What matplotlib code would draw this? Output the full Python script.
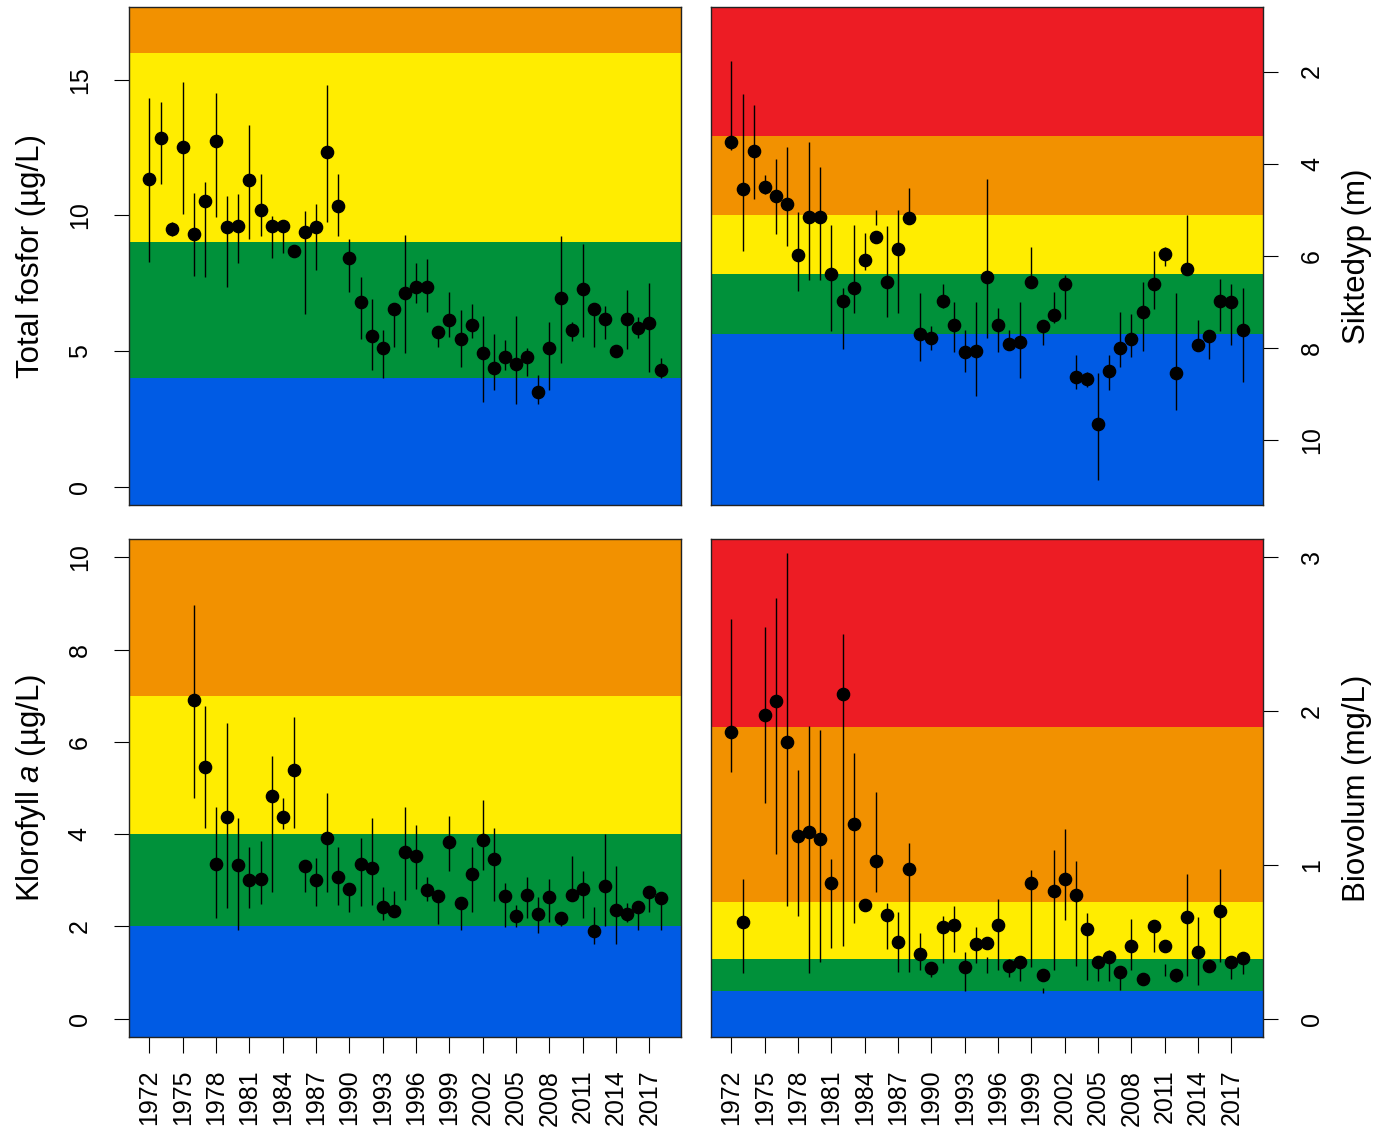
#!/usr/bin/env python3
"""Tidsserier for fosfor, siktedyp, klorofyll a og biovolum med tilstandsklasser."""

import matplotlib

matplotlib.use("Agg")
import matplotlib.pyplot as plt

plt.rcParams["font.family"] = ["Liberation Sans", "DejaVu Sans"]
plt.rcParams["mathtext.fontset"] = "custom"
plt.rcParams["mathtext.rm"] = "Liberation Sans"
plt.rcParams["mathtext.it"] = "Liberation Sans:italic"

BLUE = "#005BE4"
GREEN = "#00913A"
YELLOW = "#FFED00"
ORANGE = "#F29100"
RED = "#ED1C24"

XTICKS = list(range(1972, 2018, 3))

# --- Total fosfor (ug/L) ---
TP_YEARS = list(range(1972, 2019))
TP_VAL = [11.34, 12.84, 9.50, 12.53, 9.30, 10.51, 12.74, 9.58, 9.62, 11.30, 10.20, 9.62,
          9.62, 8.69, 9.40, 9.58, 12.33, 10.36, 8.42, 6.82, 5.55, 5.10, 6.55, 7.13,
          7.37, 7.37, 5.68, 6.14, 5.44, 5.96, 4.92, 4.36, 4.79, 4.52, 4.79, 3.48,
          5.10, 6.97, 5.78, 7.27, 6.55, 6.18, 4.98, 6.18, 5.86, 6.02, 4.30]
TP_HI = [14.32, 14.17, 9.77, 14.93, 10.81, 11.24, 14.52, 10.72, 10.78, 13.33, 11.51, 9.99,
         9.83, 8.69, 10.16, 10.41, 14.81, 11.51, 9.12, 7.74, 6.92, 5.78, 6.55, 9.28,
         8.23, 8.38, 5.68, 7.19, 6.51, 6.72, 6.30, 5.62, 5.41, 6.30, 5.10, 4.12,
         6.08, 9.22, 6.08, 8.95, 6.55, 6.66, 4.98, 7.23, 6.24, 7.50, 4.73]
TP_LO = [8.29, 11.16, 9.25, 10.06, 7.78, 7.72, 9.95, 7.35, 8.23, 9.12, 9.24, 8.44,
         8.60, 8.69, 6.35, 7.98, 9.75, 9.24, 7.19, 5.43, 4.28, 4.02, 5.16, 4.92,
         6.78, 6.43, 5.16, 5.53, 4.39, 5.49, 3.13, 3.56, 4.30, 3.04, 4.08, 3.04,
         3.56, 4.55, 5.37, 5.53, 5.16, 5.43, 4.98, 5.06, 5.49, 4.24, 4.00]
TP_LIMITS = [4, 9, 16]
TP_COLORS = [BLUE, GREEN, YELLOW, ORANGE]

# --- Siktedyp (m) ---
SD_YEARS = list(range(1972, 2019))
SD_VAL = [3.53, 4.55, 3.72, 4.50, 4.70, 4.88, 5.98, 5.16, 5.16, 6.39, 6.97, 6.69,
          6.08, 5.59, 6.57, 5.84, 5.18, 7.70, 7.77, 6.97, 7.49, 8.08, 8.06, 6.45,
          7.50, 7.90, 7.86, 6.57, 7.52, 7.28, 6.60, 8.62, 8.66, 9.64, 8.50, 7.99,
          7.79, 7.21, 6.60, 5.95, 8.54, 6.29, 7.92, 7.73, 6.97, 7.00, 7.61]
SD_TOP = [1.78, 2.49, 2.72, 4.24, 3.90, 3.63, 5.04, 3.53, 4.08, 5.32, 6.69, 5.32,
          5.50, 5.00, 5.35, 5.00, 4.53, 6.81, 7.52, 6.60, 7.00, 7.61, 7.00, 4.33,
          7.13, 7.61, 7.00, 5.80, 7.52, 6.78, 6.42, 8.15, 8.52, 8.53, 8.15, 7.21,
          7.25, 6.57, 5.90, 5.80, 6.81, 5.10, 7.39, 7.73, 6.50, 6.60, 6.69]
SD_BOTTOM = [3.70, 5.89, 4.77, 4.66, 5.52, 5.79, 6.76, 6.53, 6.53, 7.63, 8.02, 7.23,
             6.31, 5.33, 7.32, 7.23, 5.29, 8.28, 8.03, 7.13, 8.08, 8.52, 9.04, 7.78,
             8.08, 7.99, 8.64, 6.57, 7.94, 7.46, 7.37, 8.88, 8.84, 10.85, 8.91, 8.41,
             8.20, 8.06, 7.14, 6.21, 9.35, 6.42, 8.03, 8.24, 7.63, 7.94, 8.73]
SD_LIMITS = [7.7, 6.4, 5.1, 3.4]
SD_COLORS = [BLUE, GREEN, YELLOW, ORANGE, RED]

# --- Klorofyll a (ug/L) ---
CHL_YEARS = list(range(1976, 2019))
CHL_VAL = [6.90, 5.46, 3.36, 4.37, 3.33, 3.00, 3.03, 4.83, 4.37, 5.38, 3.30, 3.00,
           3.91, 3.08, 2.82, 3.36, 3.26, 2.42, 2.33, 3.61,
           3.52, 2.78, 2.65, 3.82, 2.51, 3.14, 3.88, 3.46, 2.65, 2.23, 2.69, 2.26,
           2.63, 2.18, 2.69, 2.82, 1.90, 2.87, 2.35, 2.26, 2.42, 2.75, 2.61]
CHL_HI = [8.96, 6.78, 4.58, 6.42, 4.34, 3.73, 3.86, 5.69, 4.78, 6.54, 3.30, 3.49,
          4.90, 3.73, 2.82, 3.91, 4.34, 2.85, 2.76, 4.58,
          4.19, 3.07, 2.65, 4.40, 2.51, 3.73, 4.74, 4.13, 2.94, 2.47, 3.06, 2.63,
          3.03, 2.18, 3.52, 3.21, 2.42, 4.01, 3.30, 2.51, 2.42, 2.75, 2.61]
CHL_LO = [4.78, 4.14, 2.18, 2.40, 1.91, 2.40, 2.49, 2.74, 4.11, 4.14, 2.74, 2.44,
          2.74, 2.47, 2.31, 2.44, 2.47, 2.13, 2.33, 2.58,
          2.80, 2.54, 2.04, 3.19, 1.91, 2.31, 3.23, 2.56, 1.98, 1.98, 2.18, 1.85,
          2.10, 2.00, 2.69, 2.18, 1.61, 2.00, 1.61, 2.10, 1.91, 2.31, 1.91]
CHL_LIMITS = [2, 4, 7]
CHL_COLORS = [BLUE, GREEN, YELLOW, ORANGE]

# --- Biovolum (mg/L) ---
BV_YEARS = [1972, 1973] + list(range(1975, 2019))
BV_VAL = [1.866, 0.631, 1.974, 2.067, 1.801, 1.188, 1.216, 1.168, 0.885, 2.110, 1.268,
          0.739, 1.024, 0.674, 0.501, 0.976, 0.421, 0.328, 0.594, 0.609, 0.334, 0.486,
          0.490,
          0.609, 0.339, 0.371, 0.879, 0.281, 0.831, 0.905, 0.803, 0.583, 0.371, 0.399,
          0.302, 0.475, 0.259, 0.603, 0.475, 0.281, 0.658, 0.436, 0.345, 0.702, 0.365,
          0.393]
BV_HI = [2.600, 0.905, 2.546, 2.737, 3.028, 1.620, 1.905, 1.877, 1.041, 2.499, 1.728,
         0.739, 1.473, 0.749, 0.695, 1.142, 0.559, 0.328, 0.667, 0.732, 0.430, 0.594,
         0.399,
         0.778, 0.386, 0.400, 0.969, 0.198, 1.099, 1.235, 1.026, 0.684, 0.371, 0.447,
         0.339, 0.648, 0.259, 0.603, 0.354, 0.321, 0.943, 0.663, 0.345, 0.972, 0.365,
         0.425]
BV_LO = [1.602, 0.296, 1.402, 1.073, 0.734, 0.669, 0.296, 0.367, 0.458, 0.469, 0.624,
         0.739, 0.825, 0.451, 0.306, 0.306, 0.313, 0.270, 0.360, 0.436, 0.177, 0.360,
         0.296,
         0.318, 0.270, 0.242, 0.334, 0.166, 0.313, 0.641, 0.339, 0.253, 0.242, 0.242,
         0.188, 0.313, 0.259, 0.436, 0.274, 0.235, 0.274, 0.220, 0.345, 0.371, 0.257,
         0.292]
BV_LIMITS = [0.18, 0.39, 0.76, 1.9]
BV_COLORS = [BLUE, GREEN, YELLOW, ORANGE, RED]

W, H = 1381, 1132
TICK_FS = 18
LABEL_FS = 22.5


def r_range(lo, hi):
    """R-style axis range: 4 % padding on each side."""
    pad = 0.04 * (hi - lo)
    return lo - pad, hi + pad


def add_axes(fig, x0, y0, x1, y1):
    return fig.add_axes([x0 / W, 1 - y1 / H, (x1 - x0) / W, (y1 - y0) / H])


def draw_panel(ax, years, val, lo, hi, limits, colors, ylim, yticks, side,
               label, show_x):
    edges = [-1e3] + list(limits) + [1e3]
    if limits[0] > limits[-1]:
        edges = [1e3] + list(limits) + [-1e3]
    for (a, b), c in zip(zip(edges[:-1], edges[1:]), colors):
        ax.axhspan(a, b, color=c, lw=0, zorder=0)

    ax.vlines(years, lo, hi, color="black", lw=1.0, zorder=2)
    ax.plot(years, val, "o", color="black", ms=8.8, zorder=3)

    ax.set_xlim(*r_range(1972, 2018))
    ax.set_ylim(*ylim)
    ax.set_yticks(yticks)
    ax.set_yticklabels([str(t) for t in yticks])

    for s in ax.spines.values():
        s.set_linewidth(1.0)
        s.set_color("#222222")

    if side == "right":
        ax.yaxis.tick_right()
        ax.yaxis.set_label_position("right")
        ax.set_ylabel(label, fontsize=LABEL_FS, rotation=90, va="center")
        ax.yaxis.set_label_coords(646 / 552, 0.5)
    else:
        ax.set_ylabel(label, fontsize=LABEL_FS, rotation=90, va="center")
        ax.yaxis.set_label_coords(-98 / 552, 0.5)
    ax.tick_params(axis="y", length=10.8, width=0.8, pad=16,
                   labelsize=TICK_FS, labelrotation=90)
    for t in ax.get_yticklabels():
        t.set_va("center")

    if show_x:
        ax.set_xticks(XTICKS)
        ax.set_xticklabels([str(y) for y in XTICKS], rotation=90)
        ax.tick_params(axis="x", length=11.5, width=0.8, pad=12,
                       labelsize=TICK_FS)
    else:
        ax.tick_params(axis="x", bottom=False, labelbottom=False)


def main():
    fig = plt.figure(figsize=(W / 100, H / 100), dpi=100)

    ax_tp = add_axes(fig, 129, 7, 681, 505)
    ax_sd = add_axes(fig, 711, 7, 1263, 505)
    ax_chl = add_axes(fig, 129, 539, 681, 1037)
    ax_bv = add_axes(fig, 711, 539, 1263, 1037)

    draw_panel(ax_tp, TP_YEARS, TP_VAL, TP_LO, TP_HI, TP_LIMITS, TP_COLORS,
               r_range(0, 17), [0, 5, 10, 15], "left",
               "Total fosfor (µg/L)", False)

    lo, hi = r_range(1, 11)
    draw_panel(ax_sd, SD_YEARS, SD_VAL, SD_BOTTOM, SD_TOP, SD_LIMITS, SD_COLORS,
               (hi, lo), [2, 4, 6, 8, 10], "right", "Siktedyp (m)", False)

    draw_panel(ax_chl, CHL_YEARS, CHL_VAL, CHL_LO, CHL_HI, CHL_LIMITS, CHL_COLORS,
               r_range(0, 10), [0, 2, 4, 6, 8, 10], "left",
               r"Klorofyll $a$ (µg/L)", True)

    draw_panel(ax_bv, BV_YEARS, BV_VAL, BV_LO, BV_HI, BV_LIMITS, BV_COLORS,
               r_range(0, 3), [0, 1, 2, 3], "right", "Biovolum (mg/L)", True)

    fig.savefig("out.png", dpi=100)
    plt.close(fig)


if __name__ == "__main__":
    main()
